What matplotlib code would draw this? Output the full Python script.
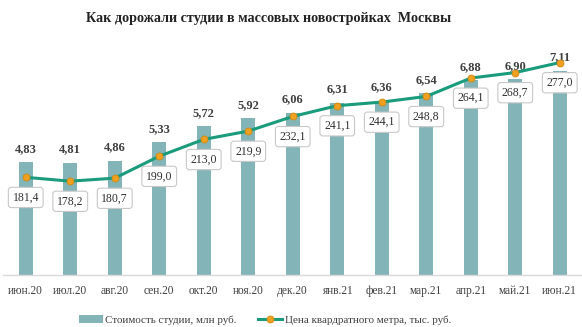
import numpy as np
import matplotlib
matplotlib.use('Agg')
import matplotlib.pyplot as plt

plt.rcParams['font.family'] = ['Liberation Serif', 'DejaVu Serif']

months = ['июн.20', 'июл.20', 'авг.20', 'сен.20', 'окт.20', 'ноя.20', 'дек.20',
          'янв.21', 'фев.21', 'мар.21', 'апр.21', 'май.21', 'июн.21']
studio_cost = [4.83, 4.81, 4.86, 5.33, 5.72, 5.92, 6.06, 6.31, 6.36, 6.54, 6.88, 6.90, 7.11]   # млн руб.
sqm_price = [181.4, 178.2, 180.7, 199.0, 213.0, 219.9, 232.1, 241.1, 244.1, 248.8, 264.1, 268.7, 277.0]  # тыс. руб.

def ru(v, d):
    return f'{v:.{d}f}'.replace('.', ',')

x = np.arange(len(months))

fig = plt.figure(figsize=(5.82, 3.27), dpi=100)
ax = fig.add_axes([0.006, 0.159, 0.994, 0.734])
ax2 = ax.twinx()

bars = ax.bar(x, studio_cost, width=0.32, color='#82b4b8', bottom=0,
              label='Стоимость студии, млн руб.', zorder=2)
ax.set_ylim(2, 8)
ax.set_xlim(-0.5, len(months) - 0.5)

for xi, v in zip(x, studio_cost):
    ax.annotate(ru(v, 2), (xi, v), xytext=(0, 5), textcoords='offset points',
                ha='center', va='bottom', fontsize=9, fontweight='bold', color='#404040')

line, = ax2.plot(x, sqm_price, color='#1a9b7c', lw=2.2, marker='o', ms=5,
                 mfc='#f0a020', mec='#d08a10', mew=0.6,
                 label='Цена квардратного метра, тыс. руб.', zorder=3)
ax2.set_ylim(100, 300)

for xi, v in zip(x, sqm_price):
    ax2.annotate(ru(v, 1), (xi, v), xytext=(0, -14.5), textcoords='offset points',
                 ha='center', va='center', fontsize=8.5, color='#303030',
                 bbox=dict(boxstyle='round,pad=0.35,rounding_size=0.25',
                           fc='white', ec='#c8c8c8', lw=0.8), zorder=4)

ax.set_xticks(x)
ax.set_xticklabels(months, fontsize=8.3, color='#404040')
ax.tick_params(axis='x', length=0, pad=7)
ax.set_yticks([])
ax2.set_yticks([])
for a in (ax, ax2):
    for s in ['top', 'left', 'right']:
        a.spines[s].set_visible(False)
    a.spines['bottom'].set_color('#d9d9d9')
    a.spines['bottom'].set_linewidth(1)
ax2.spines['bottom'].set_visible(False)

fig.text(0.461, 0.943, 'Как дорожали студии в массовых новостройках  Москвы',
         ha='center', va='center', fontsize=10.2, fontweight='bold', color='#222222')

fig.legend([bars, line], [bars.get_label(), line.get_label()],
           loc='center', bbox_to_anchor=(0.455, 0.022), ncol=2, frameon=False,
           fontsize=7.9, handlelength=2.2, handletextpad=0.2, columnspacing=2.0,
           labelcolor='#404040')

fig.savefig('out.png', dpi=100)
